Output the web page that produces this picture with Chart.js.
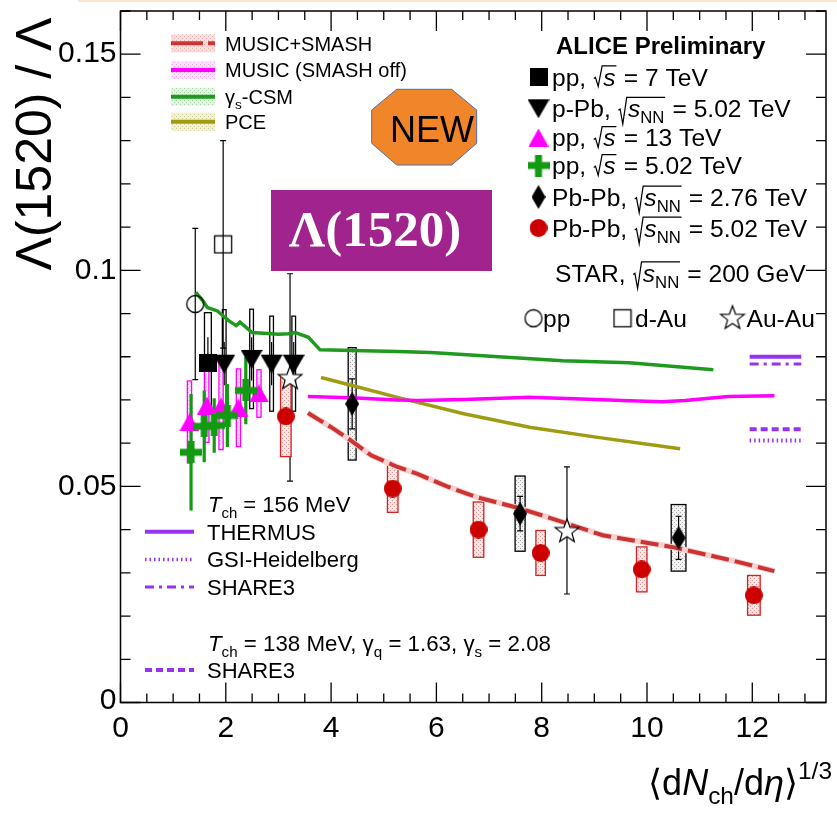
<!DOCTYPE html>
<html>
<head>
<meta charset="utf-8">
<script src="https://cdn.jsdelivr.net/npm/chart.js@4.4.1/dist/chart.umd.min.js"></script>
<style>
  html, body { margin: 0; padding: 0; background: #fff; }
  canvas { display: block; }
</style>
</head>
<body>
<canvas id="c" width="837" height="813"></canvas>
<script>
// ---------------- axis ticks ----------------
const xTickValues = [0, 2, 4, 6, 8, 10, 12];
const xTickLabels = ['0', '2', '4', '6', '8', '10', '12'];
const yTickValues = [0, 0.05, 0.1, 0.15];
const yTickLabels = ['0', '0.05', '0.1', '0.15'];

// ---------------- ALICE data ----------------
// pp, sqrt(s) = 7 TeV
const pp7X = [1.66];
const pp7Y = [0.0785];
const pp7Stat = [0.006];
const pp7Sys = [0.0117];

// p-Pb, sqrt(sNN) = 5.02 TeV
const pPbX = [1.97, 2.49, 2.87, 3.29];
const pPbY = [0.0784, 0.0795, 0.0784, 0.0784];
const pPbStat = [0.005, 0.005, 0.005, 0.005];
const pPbSys = [0.0125, 0.0115, 0.011, 0.011];

// pp, sqrt(s) = 13 TeV
const pp13X = [1.31, 1.64, 1.91, 2.24, 2.63];
const pp13Y = [0.0649, 0.0687, 0.0685, 0.0682, 0.0715];
const pp13Sys = [0.0095, 0.0085, 0.0100, 0.0090, 0.0055];

// pp, sqrt(s) = 5.02 TeV
const pp5X = [1.34, 1.59, 1.78, 2.03, 2.38];
const pp5Y = [0.0579, 0.0639, 0.0641, 0.0664, 0.0722];
const pp5Err = [0.0135, 0.0083, 0.0063, 0.0073, 0.0078];

// Pb-Pb, sqrt(sNN) = 2.76 TeV
const pbpb276X = [4.40, 7.59, 10.60];
const pbpb276Y = [0.0691, 0.0437, 0.0381];
const pbpb276Stat = [0.0058, 0.0040, 0.0050];
const pbpb276Sys = [0.0130, 0.0087, 0.0077];

// Pb-Pb, sqrt(sNN) = 5.02 TeV
const pbpb502X = [3.14, 5.17, 6.80, 7.98, 9.90, 12.03];
const pbpb502Y = [0.0662, 0.0495, 0.0400, 0.0346, 0.0308, 0.0248];
const pbpb502Stat = [0.0020, 0.0015, 0.0012, 0.0012, 0.0010, 0.0010];
const pbpb502Sys = [0.0093, 0.0055, 0.0064, 0.0052, 0.0052, 0.0046];

// ---------------- STAR data (200 GeV) ----------------
const starPpX = [1.42];
const starPpY = [0.0922];
const starPpErr = [0.0175];
const starDAuX = [1.95];
const starDAuY = [0.106];
const starDAuErr = [0.024];
const starAuAuX = [3.22, 8.48];
const starAuAuY = [0.0752, 0.0398];
const starAuAuErr = [0.024, 0.0147];

// ---------------- model curves ----------------
const musicSmashX = [3.56, 4.0, 4.38, 4.76, 5.26, 5.64, 6.2, 6.77, 7.59, 8.21, 9.16, 10.47, 11.6, 12.42];
const musicSmashY = [0.0670, 0.0637, 0.0606, 0.0572, 0.0545, 0.0529, 0.0500, 0.0475, 0.0449, 0.0425, 0.0387, 0.0360, 0.0329, 0.0304];

const musicOffX = [3.56, 4.38, 5.26, 5.64, 6.52, 7.77, 9.03, 9.66, 10.29, 10.72, 11.54, 12.42];
const musicOffY = [0.0708, 0.0705, 0.0700, 0.0699, 0.0701, 0.0706, 0.0701, 0.0698, 0.0696, 0.0699, 0.0708, 0.0710];

const csmX = [1.43, 1.56, 1.65, 1.84, 2.06, 2.20, 2.27, 2.50, 3.00, 3.19, 3.32, 3.57, 3.79, 5.26, 5.89, 8.40, 9.66, 11.26];
const csmY = [0.0949, 0.0930, 0.0914, 0.0906, 0.0883, 0.0872, 0.0880, 0.0856, 0.0852, 0.0853, 0.0856, 0.0845, 0.0816, 0.0812, 0.0810, 0.0791, 0.0786, 0.0770];

const pceX = [3.81, 4.38, 5.26, 6.52, 7.77, 9.03, 10.63];
const pceY = [0.0752, 0.0734, 0.0706, 0.0668, 0.0637, 0.0614, 0.0587];

// statistical-model values for central Pb-Pb
const predictionX = [11.95, 12.93];
const thermusY = [0.0800, 0.0800];
const share3Y = [0.0783, 0.0783];
const share3NeqY = [0.0632, 0.0632];
const gsiY = [0.0606, 0.0606];

// ---------------- helpers ----------------
const SANS = '"Liberation Sans", Arial, Helvetica, sans-serif';
const PURPLE = '#9632f0';

function pts(xs, ys) { return xs.map((x, i) => ({ x: x, y: ys[i] })); }

function markerCanvas(w, h, paint) {
  const c = document.createElement('canvas');
  c.width = w; c.height = h;
  paint(c.getContext('2d'), w, h);
  return c;
}
function starPath(g, cx, cy, ro, ri) {
  g.beginPath();
  for (let k = 0; k < 10; k++) {
    const r = k % 2 === 0 ? ro : ri;
    const a = -Math.PI / 2 + k * Math.PI / 5;
    const px = cx + r * Math.cos(a), py = cy + r * Math.sin(a);
    if (k === 0) g.moveTo(px, py); else g.lineTo(px, py);
  }
  g.closePath();
}
const mkSquare = markerCanvas(18, 18, (g, w, h) => { g.fillStyle = '#000'; g.fillRect(0, 0, w, h); });
const mkTriDown = markerCanvas(22, 20, (g, w, h) => {
  g.fillStyle = '#000'; g.beginPath(); g.moveTo(0, 1); g.lineTo(w, 1); g.lineTo(w / 2, h); g.closePath(); g.fill();
});
const mkTriUp = markerCanvas(20, 18, (g, w, h) => {
  g.fillStyle = '#ff00ff'; g.beginPath(); g.moveTo(w / 2, 0); g.lineTo(w, h); g.lineTo(0, h); g.closePath(); g.fill();
});
const mkCross = markerCanvas(22, 22, (g) => {
  g.fillStyle = '#129a12'; g.fillRect(0, 7.5, 22, 7); g.fillRect(7.5, 0, 7, 22);
});
const mkDiamond = markerCanvas(14, 24, (g, w, h) => {
  g.fillStyle = '#000'; g.beginPath(); g.moveTo(w / 2, 0); g.lineTo(w, h / 2); g.lineTo(w / 2, h); g.lineTo(0, h / 2); g.closePath(); g.fill();
});
const mkCircle = markerCanvas(18, 18, (g) => {
  g.fillStyle = '#cc0000'; g.beginPath(); g.arc(9, 9, 9, 0, 2 * Math.PI); g.fill();
});
const mkOpenCircle = markerCanvas(20, 20, (g) => {
  g.strokeStyle = '#000'; g.lineWidth = 1.3; g.beginPath(); g.arc(10, 10, 8.5, 0, 2 * Math.PI); g.stroke();
});
const mkOpenSquare = markerCanvas(20, 20, (g) => {
  g.strokeStyle = '#000'; g.lineWidth = 1.3; g.strokeRect(1.5, 1.5, 17, 17);
});
const mkOpenStar = markerCanvas(28, 28, (g) => {
  g.fillStyle = '#fff'; g.strokeStyle = '#000'; g.lineWidth = 1.2;
  starPath(g, 14, 15, 12.5, 5.2); g.fill(); g.stroke();
});

function hatchCanvas(base, dot) {
  const c = document.createElement('canvas');
  c.width = 4; c.height = 4;
  const g = c.getContext('2d');
  g.fillStyle = base; g.fillRect(0, 0, 4, 4);
  g.fillStyle = dot; g.fillRect(0, 0, 1, 1); g.fillRect(2, 2, 1, 1);
  return c;
}
const hatchRed = hatchCanvas('#fbe4e4', '#d99a9a');
const hatchGray = hatchCanvas('#f2f2f2', '#a8a8a8');
const hatchPink = hatchCanvas('#fce6fc', '#f2a6f2');
const hatchGreen = hatchCanvas('#e6f4e6', '#a6d6a6');
const hatchOlive = hatchCanvas('#f2f1dc', '#cfcc8c');
const hatchMusic = hatchCanvas('#f9e0e0', '#e8b4b4');

// rich text: segments with italic / subscript / superscript / square root
function setFont(ctx, size, it, bold, family) {
  ctx.font = (it ? 'italic ' : '') + (bold ? 'bold ' : '') + size + 'px ' + (family || SANS);
}
function layoutRich(ctx, parts, size, x, y, draw) {
  let cx = x;
  for (const p of parts) {
    if (p.sqrt) {
      const hasSub = p.sqrt.some(q => q.sub);
      const start = cx;
      const end = layoutRich(ctx, p.sqrt, size, cx + size * 0.42, y, draw);
      if (draw) {
        const top = y - size * 0.80;
        const bot = y + (hasSub ? size * 0.28 : size * 0.04);
        ctx.save();
        ctx.strokeStyle = ctx.fillStyle;
        ctx.lineWidth = Math.max(1.1, size * 0.05);
        ctx.beginPath();
        ctx.moveTo(start + size * 0.03, y - size * 0.28);
        ctx.lineTo(start + size * 0.10, y - size * 0.33);
        ctx.lineTo(start + size * 0.21, bot);
        ctx.lineTo(start + size * 0.37, top);
        ctx.lineTo(end + size * 0.03, top);
        ctx.stroke();
        ctx.restore();
      }
      cx = end + size * 0.05;
      continue;
    }
    let fs = size, dy = 0;
    if (p.sub) { fs = size * 0.68; dy = size * 0.26; }
    if (p.sup) { fs = size * 0.68; dy = -size * 0.45; }
    setFont(ctx, fs, p.it, p.b, p.family);
    if (draw) ctx.fillText(p.t, cx, y + dy);
    cx += ctx.measureText(p.t).width;
  }
  return cx;
}
function rich(ctx, parts, size, x, y, align, color) {
  ctx.save();
  ctx.fillStyle = color || '#000';
  ctx.textBaseline = 'alphabetic';
  ctx.textAlign = 'left';
  let x0 = x;
  if (align === 'right' || align === 'center') {
    const w = layoutRich(ctx, parts, size, 0, 0, false);
    x0 = align === 'right' ? x - w : x - w / 2;
  }
  layoutRich(ctx, parts, size, x0, y, true);
  ctx.restore();
}
const sqrtS = { sqrt: [{ t: 's', it: 1 }] };
const sqrtSNN = { sqrt: [{ t: 's', it: 1 }, { t: 'NN', sub: 1 }] };

// ---------------- uncertainty boxes and bars ----------------
const errorGroups = [
  { xs: starPpX, ys: starPpY, stat: starPpErr, barColor: '#000', barLw: 1.2, cap: 3 },
  { xs: starDAuX, ys: starDAuY, stat: starDAuErr, barColor: '#000', barLw: 1.2, cap: 3 },
  { xs: starAuAuX, ys: starAuAuY, stat: starAuAuErr, barColor: '#000', barLw: 1.2, cap: 3 },
  { xs: pp7X, ys: pp7Y, sys: pp7Sys, stat: pp7Stat, half: 0.065, boxStroke: '#000', barColor: '#000', barLw: 1.2 },
  { xs: pPbX, ys: pPbY, sys: pPbSys, stat: pPbStat, half: 0.035, boxStroke: '#000', barColor: '#000', barLw: 1.2 },
  { xs: pbpb276X, ys: pbpb276Y, sys: pbpb276Sys, stat: pbpb276Stat, half: [0.075, 0.095, 0.14], boxStroke: '#000', boxFill: hatchGray, barColor: '#000', barLw: 1.2, cap: 3 },
  { xs: pbpb502X, ys: pbpb502Y, sys: pbpb502Sys, stat: pbpb502Stat, half: [0.1, 0.1, 0.1, 0.09, 0.1, 0.12], boxStroke: '#d42020', boxFill: hatchRed, barColor: '#cc0000', barLw: 1.2 },
  { xs: pp13X, ys: pp13Y, sys: pp13Sys, half: 0.04, boxStroke: '#ff00ff', boxFill: hatchPink },
  { xs: pp5X, ys: pp5Y, stat: pp5Err, barColor: '#129a12', barLw: 3.2 }
];

function drawErrors(chart) {
  const { ctx, chartArea: a } = chart;
  const sx = chart.scales.x, sy = chart.scales.y;
  ctx.save();
  ctx.beginPath(); ctx.rect(a.left, a.top, a.right - a.left, a.bottom - a.top); ctx.clip();
  for (const g of errorGroups) {
    g.xs.forEach((xv, i) => {
      const px = sx.getPixelForValue(xv);
      if (g.sys) {
        const hw = Array.isArray(g.half) ? g.half[i] : g.half;
        const x0 = sx.getPixelForValue(xv - hw), x1 = sx.getPixelForValue(xv + hw);
        const y0 = sy.getPixelForValue(g.ys[i] + g.sys[i]), y1 = sy.getPixelForValue(g.ys[i] - g.sys[i]);
        if (g.boxFill) {
          ctx.fillStyle = ctx.createPattern(g.boxFill, 'repeat');
          ctx.fillRect(x0, y0, x1 - x0, y1 - y0);
        }
        ctx.strokeStyle = g.boxStroke; ctx.lineWidth = 1.3;
        ctx.strokeRect(x0, y0, x1 - x0, y1 - y0);
      }
      if (g.stat) {
        const y0 = sy.getPixelForValue(g.ys[i] + g.stat[i]), y1 = sy.getPixelForValue(g.ys[i] - g.stat[i]);
        ctx.strokeStyle = g.barColor; ctx.lineWidth = g.barLw;
        ctx.beginPath();
        ctx.moveTo(px, y0); ctx.lineTo(px, y1);
        if (g.cap) {
          ctx.moveTo(px - g.cap, y0); ctx.lineTo(px + g.cap, y0);
          ctx.moveTo(px - g.cap, y1); ctx.lineTo(px + g.cap, y1);
        }
        ctx.stroke();
      }
    });
  }
  ctx.restore();
}

// ---------------- frame, ticks, labels, legends ----------------
function drawFrame(chart) {
  const { ctx, chartArea: a } = chart;
  const sx = chart.scales.x, sy = chart.scales.y;
  ctx.save();
  ctx.strokeStyle = '#000';
  ctx.lineWidth = 1.5;
  ctx.strokeRect(a.left, a.top, a.right - a.left, a.bottom - a.top);
  ctx.lineWidth = 1.3;
  ctx.beginPath();
  for (let k = 0; ; k++) {
    const v = k * 0.5;
    if (v > sx.max) break;
    const px = sx.getPixelForValue(v);
    const L = (k % 4 === 0) ? 20 : 9;
    ctx.moveTo(px, a.bottom); ctx.lineTo(px, a.bottom - L);
    ctx.moveTo(px, a.top); ctx.lineTo(px, a.top + L);
  }
  for (let k = 0; ; k++) {
    const v = k * 0.01;
    if (v > sy.max + 1e-9) break;
    const py = sy.getPixelForValue(v);
    const L = (k % 5 === 0) ? 20 : 10;
    ctx.moveTo(a.left, py); ctx.lineTo(a.left + L, py);
    ctx.moveTo(a.right, py); ctx.lineTo(a.right - L, py);
  }
  ctx.stroke();

  // tick labels
  ctx.fillStyle = '#000';
  setFont(ctx, 30);
  ctx.textAlign = 'center'; ctx.textBaseline = 'top';
  xTickValues.forEach((v, i) => ctx.fillText(xTickLabels[i], sx.getPixelForValue(v), a.bottom + 11));
  ctx.textAlign = 'right'; ctx.textBaseline = 'middle';
  yTickValues.forEach((v, i) => ctx.fillText(yTickLabels[i], a.left - 4, sy.getPixelForValue(v) + (v === 0 ? -2 : 0)));

  // axis titles
  rich(ctx, [{ t: '\u27E8d' }, { t: 'N', it: 1 }, { t: 'ch', sub: 1 }, { t: '/d' }, { t: '\u03B7', it: 1 }, { t: '\u27E9' }, { t: '1/3', sup: 1 }], 36, 832, 795, 'right');
  ctx.save();
  ctx.translate(51, 144);
  ctx.rotate(-Math.PI / 2);
  rich(ctx, [{ t: '\u039B(1520) / \u039B' }], 50, 0, 0, 'center');
  ctx.restore();
  ctx.restore();
}

function drawLegends(chart) {
  const ctx = chart.ctx;
  ctx.save();

  // model legend (top left)
  const modelRows = [
    { y: 43.3, fill: hatchMusic, color: '#cc3333', dash: [32, 5], parts: [{ t: 'MUSIC+SMASH' }] },
    { y: 70.0, fill: hatchPink, color: '#ff00ff', dash: [], parts: [{ t: 'MUSIC (SMASH off)' }] },
    { y: 96.7, fill: hatchGreen, color: '#1f9a1f', dash: [], parts: [{ t: '\u03B3' }, { t: 's', sub: 1 }, { t: '-CSM' }] },
    { y: 121.7, fill: hatchOlive, color: '#a09c12', dash: [], parts: [{ t: 'PCE' }] }
  ];
  modelRows.forEach(r => {
    ctx.fillStyle = ctx.createPattern(r.fill, 'repeat');
    ctx.fillRect(171, r.y - 9, 44, 18);
    ctx.strokeStyle = r.color; ctx.lineWidth = 4; ctx.setLineDash(r.dash);
    ctx.beginPath(); ctx.moveTo(171, r.y); ctx.lineTo(215, r.y); ctx.stroke();
    ctx.setLineDash([]);
    rich(ctx, r.parts, 20, 225, r.y + 7.2);
  });

  // data legend (top right)
  rich(ctx, [{ t: 'ALICE Preliminary', b: 1 }], 24, 556, 53.6);
  const dataRows = [
    { y: 76.7, m: mkSquare, parts: [{ t: 'pp, ' }, sqrtS, { t: ' = 7 TeV' }] },
    { y: 108.3, m: mkTriDown, parts: [{ t: 'p-Pb, ' }, sqrtSNN, { t: ' = 5.02 TeV' }] },
    { y: 137.5, m: mkTriUp, parts: [{ t: 'pp, ' }, sqrtS, { t: ' = 13 TeV' }] },
    { y: 165.5, m: mkCross, parts: [{ t: 'pp, ' }, sqrtS, { t: ' = 5.02 TeV' }] },
    { y: 197.0, m: mkDiamond, parts: [{ t: 'Pb-Pb, ' }, sqrtSNN, { t: ' = 2.76 TeV' }] },
    { y: 228.0, m: mkCircle, parts: [{ t: 'Pb-Pb, ' }, sqrtSNN, { t: ' = 5.02 TeV' }] }
  ];
  dataRows.forEach(r => {
    ctx.drawImage(r.m, 538.5 - r.m.width / 2, r.y - r.m.height / 2);
    rich(ctx, r.parts, 24.6, 552, r.y + 8.8);
  });
  rich(ctx, [{ t: 'STAR, ' }, sqrtSNN, { t: ' = 200 GeV' }], 24.6, 555, 281.5);
  ctx.drawImage(mkOpenCircle, 533.5 - 10, 318.3 - 10);
  rich(ctx, [{ t: 'pp' }], 24.6, 543, 327.1);
  ctx.drawImage(mkOpenSquare, 622.5 - 10, 318.3 - 10);
  rich(ctx, [{ t: 'd-Au' }], 24.6, 635, 327.1);
  ctx.drawImage(mkOpenStar, 732.5 - 14, 318.3 - 15);
  rich(ctx, [{ t: 'Au-Au' }], 24.6, 746.5, 327.1);

  // statistical-model legend (bottom left)
  rich(ctx, [{ t: 'T', it: 1 }, { t: 'ch', sub: 1 }, { t: ' = 156 MeV' }], 22, 208, 511.9);
  const smRows = [
    { y: 531.7, lw: 4, dash: [], parts: [{ t: 'THERMUS' }] },
    { y: 559.5, lw: 3.5, dash: [1.5, 3], parts: [{ t: 'GSI-Heidelberg' }] },
    { y: 587.0, lw: 3, dash: [9, 5, 3, 5], parts: [{ t: 'SHARE3' }] },
    { y: 670.0, lw: 4, dash: [7, 4], parts: [{ t: 'SHARE3' }] }
  ];
  smRows.forEach(r => {
    ctx.strokeStyle = PURPLE; ctx.lineWidth = r.lw; ctx.setLineDash(r.dash);
    ctx.beginPath(); ctx.moveTo(145, r.y); ctx.lineTo(194, r.y); ctx.stroke();
    ctx.setLineDash([]);
    rich(ctx, r.parts, 22, 207, r.y + 7.9);
  });
  rich(ctx, [{ t: 'T', it: 1 }, { t: 'ch', sub: 1 }, { t: ' = 138 MeV, ' }, { t: '\u03B3' }, { t: 'q', sub: 1 },
             { t: ' = 1.63, ' }, { t: '\u03B3' }, { t: 's', sub: 1 }, { t: ' = 2.08' }], 22.3, 208, 651.2);
  ctx.restore();
}

function drawBadges(chart) {
  const ctx = chart.ctx;
  ctx.save();
  // NEW octagon
  ctx.fillStyle = '#f0852a';
  ctx.strokeStyle = '#4f6fa8';
  ctx.lineWidth = 1;
  ctx.beginPath();
  ctx.moveTo(396.7, 89.3); ctx.lineTo(451.7, 89.3); ctx.lineTo(476.7, 110); ctx.lineTo(476.7, 143.3);
  ctx.lineTo(451.7, 165); ctx.lineTo(396.7, 165); ctx.lineTo(371.7, 143.3); ctx.lineTo(371.7, 110);
  ctx.closePath(); ctx.fill(); ctx.stroke();
  rich(ctx, [{ t: 'NEW' }], 36, 390, 141.7);
  // particle label
  ctx.fillStyle = '#a1238d';
  ctx.fillRect(271, 190, 221, 81);
  rich(ctx, [{ t: '\u039B(1520)', b: 1, family: '"Liberation Serif", "DejaVu Serif", serif' }], 51, 375, 246, 'center', '#ffffff');
  ctx.restore();
}

const decorPlugin = {
  id: 'decor',
  beforeDraw(chart) {
    const ctx = chart.ctx;
    ctx.save();
    ctx.fillStyle = '#fff';
    ctx.fillRect(0, 0, chart.width, chart.height);
    ctx.fillStyle = '#fde6cf';
    ctx.fillRect(78, 0, chart.width - 78, 2);
    ctx.restore();
  },
  beforeDatasetsDraw(chart) { drawErrors(chart); },
  afterDatasetsDraw(chart) { drawBadges(chart); },
  afterDraw(chart) { drawFrame(chart); drawLegends(chart); }
};

// ---------------- datasets ----------------
function markerSet(label, xs, ys, img) {
  return { label: label, data: pts(xs, ys), pointStyle: img, pointRadius: 10, showLine: false, order: 0 };
}
function curveSet(label, xs, ys, color, width, dash, order) {
  return { label: label, data: pts(xs, ys), showLine: true, pointRadius: 0, borderColor: color,
           borderWidth: width, borderDash: dash || [], fill: false, tension: 0, order: order || 2 };
}

const datasets = [
  markerSet('pp 5.02 TeV', pp5X, pp5Y, mkCross),
  markerSet('pp 13 TeV', pp13X, pp13Y, mkTriUp),
  markerSet('Pb-Pb 5.02 TeV', pbpb502X, pbpb502Y, mkCircle),
  markerSet('Pb-Pb 2.76 TeV', pbpb276X, pbpb276Y, mkDiamond),
  markerSet('p-Pb 5.02 TeV', pPbX, pPbY, mkTriDown),
  markerSet('pp 7 TeV', pp7X, pp7Y, mkSquare),
  markerSet('STAR Au-Au', starAuAuX, starAuAuY, mkOpenStar),
  markerSet('STAR d-Au', starDAuX, starDAuY, mkOpenSquare),
  markerSet('STAR pp', starPpX, starPpY, mkOpenCircle),
  curveSet('MUSIC+SMASH', musicSmashX, musicSmashY, '#cc3333', 4, [18, 6], 2),
  curveSet('MUSIC+SMASH band', musicSmashX, musicSmashY, '#f6d2d2', 6, [], 3),
  curveSet('MUSIC (SMASH off)', musicOffX, musicOffY, '#ff00ff', 3.5, [], 2),
  curveSet('gamma_s-CSM', csmX, csmY, '#1f9a1f', 3.5, [], 2),
  curveSet('PCE', pceX, pceY, '#a09c12', 3.5, [], 2),
  curveSet('THERMUS', predictionX, thermusY, PURPLE, 4, [], 2),
  curveSet('SHARE3', predictionX, share3Y, PURPLE, 3, [9, 5, 3, 5], 2),
  curveSet('SHARE3 (138 MeV)', predictionX, share3NeqY, PURPLE, 4, [7, 4], 2),
  curveSet('GSI-Heidelberg', predictionX, gsiY, PURPLE, 4, [1.5, 3], 2)
];

new Chart(document.getElementById('c'), {
  type: 'scatter',
  data: { datasets: datasets },
  options: {
    responsive: false,
    animation: false,
    events: [],
    layout: { padding: { left: 120.5, right: 4, top: 10, bottom: 110.5 } },
    scales: {
      x: { type: 'linear', min: 0, max: 13.4, display: false },
      y: { type: 'linear', min: 0, max: 0.16, display: false }
    },
    plugins: { legend: { display: false }, tooltip: { enabled: false } }
  },
  plugins: [decorPlugin]
});
</script>
</body>
</html>
